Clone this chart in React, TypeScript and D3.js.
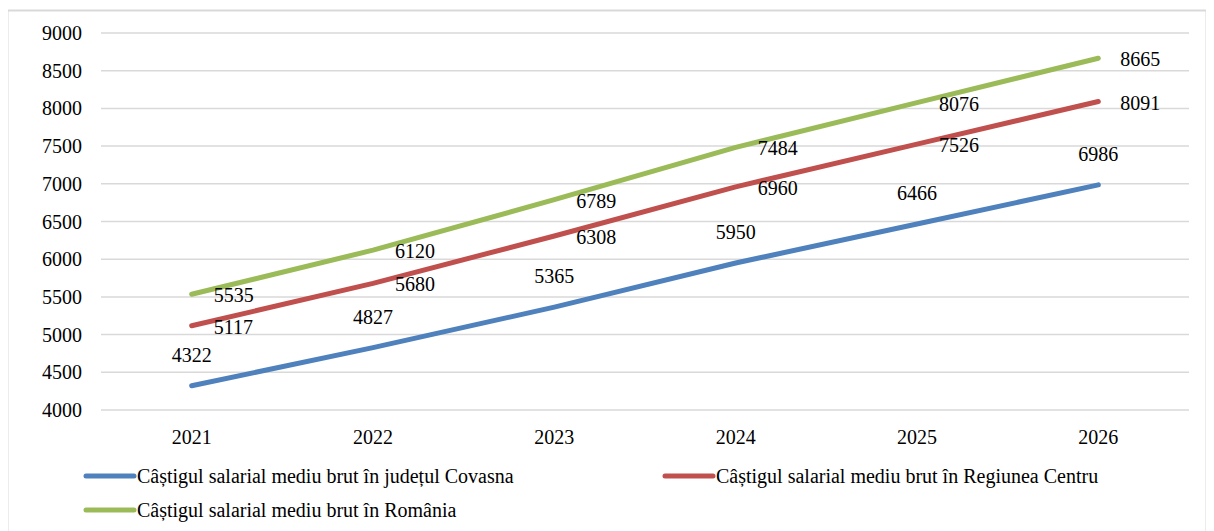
import React from "react";
import * as d3 from "d3";

const years = ["2021", "2022", "2023", "2024", "2025", "2026"];
const covasna = [4322, 4827, 5365, 5950, 6466, 6986];
const centru = [5117, 5680, 6308, 6960, 7526, 8091];
const romania = [5535, 6120, 6789, 7484, 8076, 8665];
const yTicks = [4000, 4500, 5000, 5500, 6000, 6500, 7000, 7500, 8000, 8500, 9000];

const seriesNames = [
  "Câștigul salarial mediu brut în județul Covasna",
  "Câștigul salarial mediu brut în Regiunea Centru",
  "Câștigul salarial mediu brut în România",
];
const colors = ["#4F81BD", "#C0504D", "#9BBB59"];

const W = 1214, H = 531;
const left = 101, right = 1189, top = 33, bottom = 410;

export default function App() {
  const x = d3.scaleBand<string>().domain(years).range([left, right]);
  const y = d3.scaleLinear().domain([4000, 9000]).range([bottom, top]);
  const cx = (d: string) => (x(d) as number) + x.bandwidth() / 2;
  const line = d3.line<number>().x((_, i) => cx(years[i])).y((v) => y(v));
  const data = [covasna, centru, romania];

  return (
    <svg width={W} height={H} className="chart" style={{ display: "block", marginLeft: -8, marginTop: -8 }}>
      <style>{`.chart text { font-family: "Liberation Serif", "Times New Roman", Times, serif; font-size: 20px; fill: #000; }`}</style>
      <rect x={7.5} y={10.5} width={1199} height={H + 10} fill="none" stroke="#d9d9d9" strokeWidth={2} />
      {yTicks.map((t) => (
        <g key={t}>
          <line x1={left} x2={right} y1={y(t)} y2={y(t)} stroke="#d9d9d9" strokeWidth={1.5} />
          <text x={82} y={y(t) + 7} textAnchor="end">
            {t}
          </text>
        </g>
      ))}
      {years.map((yr) => (
        <text key={yr} x={cx(yr)} y={444} textAnchor="middle">
          {yr}
        </text>
      ))}
      {data.map((s, k) => (
        <path key={k} d={line(s) as string} fill="none" stroke={colors[k]} strokeWidth={5} strokeLinecap="round" strokeLinejoin="round" />
      ))}
      {covasna.map((v, i) => (
        <text key={"c" + i} x={cx(years[i])} y={y(v) - 24} textAnchor="middle">
          {v}
        </text>
      ))}
      {[centru, romania].map((s, k) =>
        s.map((v, i) => (
          <text key={k + "-" + i} x={cx(years[i]) + 22} y={y(v) + 8}>
            {v}
          </text>
        ))
      )}
      {[
        { x: 86, y: 476, k: 0 },
        { x: 665, y: 476, k: 1 },
        { x: 86, y: 510, k: 2 },
      ].map((l) => (
        <g key={l.k}>
          <line x1={l.x} x2={l.x + 48} y1={l.y} y2={l.y} stroke={colors[l.k]} strokeWidth={5} strokeLinecap="round" />
          <text x={l.x + 51} y={l.y + 7}>
            {seriesNames[l.k]}
          </text>
        </g>
      ))}
    </svg>
  );
}
